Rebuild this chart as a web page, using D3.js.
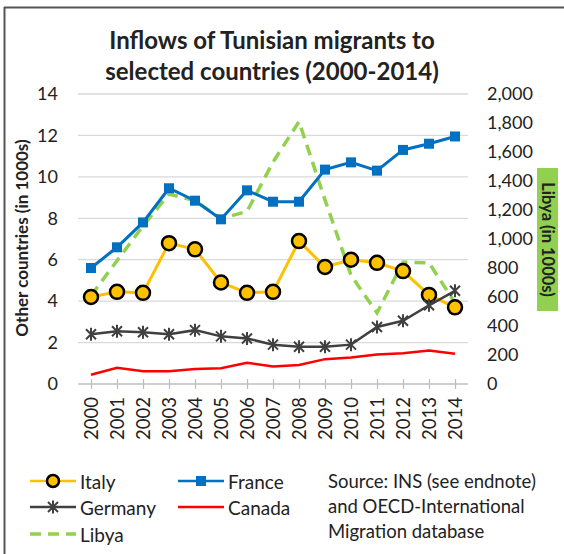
<!DOCTYPE html>
<html><head><meta charset="utf-8">
<script src="https://cdn.jsdelivr.net/npm/d3@7"></script>
<style>body{margin:0;background:#fff}svg{display:block}text{font-family:Lato,"Open Sans",sans-serif;fill:#222}</style>
</head><body><svg id="c" width="564" height="554"></svg>
<script>
const years = ["2000","2001","2002","2003","2004","2005","2006","2007","2008","2009","2010","2011","2012","2013","2014"];
const italy   = [4.2,4.45,4.4,6.8,6.5,4.9,4.4,4.45,6.9,5.65,6.0,5.85,5.45,4.3,3.7];
const france  = [5.6,6.6,7.8,9.45,8.85,7.95,9.35,8.8,8.8,10.35,10.7,10.3,11.3,11.6,11.95];
const germany = [2.4,2.55,2.5,2.4,2.6,2.3,2.2,1.9,1.8,1.8,1.9,2.75,3.05,3.8,4.5];
const canada  = [0.45,0.78,0.62,0.62,0.72,0.76,1.03,0.84,0.92,1.2,1.28,1.42,1.48,1.62,1.46];
const libya   = [610,850,1090,1310,1265,1140,1190,1530,1810,1270,750,490,840,835,560];
const leftTicks = [0,2,4,6,8,10,12,14];
const rightTicks = [0,200,400,600,800,1000,1200,1400,1600,1800,2000];
const titleLines = ["Inflows of Tunisian migrants to","selected countries (2000-2014)"];
const sourceLines = ["Source: INS (see endnote)","and OECD-International","Migration database"];

const svg = d3.select("#c");
const C = {italy:"#FFC000", france:"#0070C0", germany:"#404040", canada:"#FF0000", libya:"#92D050"};

// frame
svg.append("line").attr("x1",4).attr("x2",564).attr("y1",7.5).attr("y2",7.5).attr("stroke","#555").attr("stroke-width",2);
svg.append("line").attr("x1",4.5).attr("x2",4.5).attr("y1",7).attr("y2",554).attr("stroke","#555").attr("stroke-width",2);

const x = d3.scalePoint().domain(years).range([78,468]).padding(0.5);
const yL = d3.scaleLinear().domain([0,14]).range([384,94]);
const yR = d3.scaleLinear().domain([0,2000]).range([384,94]);

// grid
svg.append("g").selectAll("line").data(leftTicks.filter(d=>d>0)).join("line")
  .attr("x1",78).attr("x2",468).attr("y1",d=>yL(d)).attr("y2",d=>yL(d))
  .attr("stroke","#d9d9d9").attr("stroke-width",1.3);

// x axis
const xa = svg.append("g").attr("transform","translate(0,384)")
  .call(d3.axisBottom(x).tickSize(5).tickSizeOuter(0).tickPadding(8));
xa.select(".domain").remove();
xa.insert("line",":first-child").attr("x1",78).attr("x2",468).attr("stroke","#bfbfbf").attr("stroke-width",1.3);
xa.selectAll(".tick line").attr("y1",-5).attr("y2",5).attr("stroke","#bfbfbf").attr("stroke-width",1.3);
xa.selectAll(".tick text").attr("transform","rotate(-90)").attr("x",-13).attr("y",0).attr("dy","0.35em")
  .attr("text-anchor","end").style("font-size","18.5px").style("font-family","Lato").attr("fill","#222");

// left axis labels
const la = svg.append("g").attr("transform","translate(60,0)")
  .call(d3.axisLeft(yL).tickValues(leftTicks).tickSize(0).tickPadding(2));
la.select(".domain").remove();
la.selectAll("text").style("font-size","18px").style("font-family","Lato").attr("fill","#222");

// right axis labels
const ra = svg.append("g").attr("transform","translate(485,0)")
  .call(d3.axisRight(yR).tickValues(rightTicks).tickSize(0).tickPadding(2).tickFormat(d3.format(",")));
ra.select(".domain").remove();
ra.selectAll("text").style("font-size","18px").style("font-family","Lato").attr("fill","#222");

// axis titles
svg.append("text").attr("transform","translate(21,238) rotate(-90)").attr("text-anchor","middle")
  .attr("dominant-baseline","central").style("font-size","17px").style("font-weight","bold").text("Other countries (in 1000s)");
svg.append("rect").attr("x",537).attr("y",168).attr("width",21).attr("height",143).attr("fill",C.libya);
svg.append("text").attr("transform","translate(547.5,239.5) rotate(90)").attr("text-anchor","middle")
  .attr("dominant-baseline","central").style("font-size","16.5px").style("font-weight","bold").text("Libya (in 1000s)");

// title
svg.append("g").selectAll("text").data(titleLines).join("text")
  .attr("x",272).attr("y",(d,i)=>49+i*31).attr("text-anchor","middle")
  .style("font-size","24px").style("font-weight","bold").text(d=>d);

// lines
const lineL = d3.line().x((d,i)=>x(years[i])).y(d=>yL(d));
const lineR = d3.line().x((d,i)=>x(years[i])).y(d=>yR(d));
svg.append("path").datum(libya).attr("d",lineR).attr("fill","none").attr("stroke",C.libya).attr("stroke-width",3.5).attr("stroke-dasharray","11,7");
svg.append("path").datum(canada).attr("d",lineL).attr("fill","none").attr("stroke",C.canada).attr("stroke-width",2.5);
svg.append("path").datum(italy).attr("d",lineL).attr("fill","none").attr("stroke",C.italy).attr("stroke-width",3);
svg.append("path").datum(france).attr("d",lineL).attr("fill","none").attr("stroke",C.france).attr("stroke-width",3);
svg.append("path").datum(germany).attr("d",lineL).attr("fill","none").attr("stroke",C.germany).attr("stroke-width",2.5);

const starPath = "M-5,-5L5,5M-5,5L5,-5M0,-6.5L0,6.5";
svg.append("g").selectAll("circle").data(italy).join("circle")
  .attr("cx",(d,i)=>x(years[i])).attr("cy",d=>yL(d)).attr("r",7)
  .attr("fill",C.italy).attr("stroke","#000").attr("stroke-width",2.5);
svg.append("g").selectAll("rect").data(france).join("rect")
  .attr("x",(d,i)=>x(years[i])-5).attr("y",d=>yL(d)-5).attr("width",10).attr("height",10).attr("fill",C.france);
svg.append("g").selectAll("path").data(germany).join("path")
  .attr("transform",(d,i)=>`translate(${x(years[i])},${yL(d)})`).attr("d",starPath)
  .attr("stroke",C.germany).attr("stroke-width",2).attr("fill","none");

// legend
const leg = [
  {name:"Italy", c:C.italy, lx:30, y:481, m:"circle"},
  {name:"France", c:C.france, lx:178, y:481, m:"square"},
  {name:"Germany", c:C.germany, lx:30, y:507, m:"star"},
  {name:"Canada", c:C.canada, lx:178, y:507, m:"none"},
  {name:"Libya", c:C.libya, lx:30, y:534, m:"dash"}
];
const lg = svg.append("g");
leg.forEach(d=>{
  const g = lg.append("g");
  g.append("line").attr("x1",d.lx).attr("x2",d.lx+46).attr("y1",d.y).attr("y2",d.y).attr("stroke",d.c)
    .attr("stroke-width",d.m==="dash"?3.5:2.5).attr("stroke-dasharray",d.m==="dash"?"11,7":null);
  const cx = d.lx+23;
  if(d.m==="circle") g.append("circle").attr("cx",cx).attr("cy",d.y).attr("r",6).attr("fill",C.italy).attr("stroke","#000").attr("stroke-width",2.5);
  if(d.m==="square") g.append("rect").attr("x",cx-5).attr("y",d.y-5).attr("width",10).attr("height",10).attr("fill",d.c);
  if(d.m==="star") g.append("path").attr("transform",`translate(${cx},${d.y})`).attr("d",starPath).attr("stroke",d.c).attr("stroke-width",2).attr("fill","none");
  g.append("text").attr("x",d.lx+50).attr("y",d.y).attr("dominant-baseline","central").style("font-size","19px").text(d.name);
});
svg.append("g").selectAll("text").data(sourceLines).join("text")
  .attr("x",328).attr("y",(d,i)=>481+i*25).attr("dominant-baseline","central").style("font-size","18.5px").text(d=>d);
</script></body></html>
